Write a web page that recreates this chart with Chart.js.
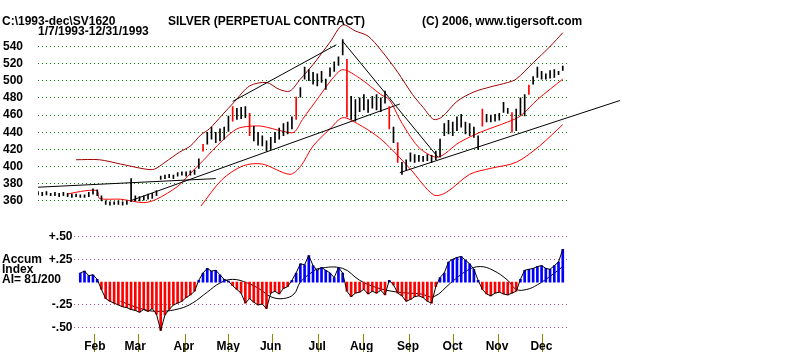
<!DOCTYPE html>
<html>
<head>
<title>SILVER (PERPETUAL CONTRACT)</title>
<script src="https://cdn.jsdelivr.net/npm/chart.js"></script>
<style>
body { margin:0; width:800px; height:352px; position:relative; background:#fff; overflow:hidden;
       font: bold 12px "Liberation Sans", Arial, sans-serif; color:#000; }
.t { position:absolute; white-space:pre; line-height:12px; }
#top { position:absolute; left:0; top:0; }
#bot { position:absolute; left:0; top:222px; }
</style>
</head>
<body>
<canvas id="top" width="800" height="215"></canvas>
<canvas id="bot" width="800" height="130"></canvas>
<div class="t" style="left:2px;top:15px">C:\1993-dec\SV1620</div>
<div class="t" style="left:38px;top:25px">1/7/1993-12/31/1993</div>
<div class="t" style="left:168px;top:15px">SILVER (PERPETUAL CONTRACT)</div>
<div class="t" style="left:422px;top:15px">(C) 2006, www.tigersoft.com</div>
<div class="t" style="left:2px;top:253px">Accum</div>
<div class="t" style="left:2px;top:263px">Index</div>
<div class="t" style="left:2px;top:273px">AI= 81/200</div>

<script>
// trading day 0 = 1/7/1993, one bar every 2 trading days
const priceHigh = [
  371,370,371,369,370,369,370,369,368,368,
  367,367,370,374,373,366,360,359,359,360,
  359,360,386,366,365,366,368,369,372,389,
  390,391,390,393,394,394,395,396,409,426,
  440,446,440,444,446,459,470,468,469,470,
  462,447,440,436,430,434,440,445,450,452,
  458,481,492,516,513,510,508,511,502,515,
  522,528,548,525,482,478,480,484,478,482,
  484,480,488,470,446,428,405,408,416,414,
  413,412,414,413,418,432,450,454,452,458,
  461,452,450,446,436,467,461,460,461,462,
  475,468,463,467,480,484,495,505,516,511,
  508,512,513,511,517
];
const priceLow = [
  367,366,367,366,366,365,366,365,364,365,
  364,364,365,368,366,360,356,355,356,356,
  355,356,359,360,360,361,362,363,366,385,
  386,387,386,389,390,389,390,391,398,418,
  426,432,428,430,432,441,453,455,456,457,
  436,430,425,424,418,420,428,432,436,438,
  444,455,481,502,500,496,494,498,490,505,
  511,518,530,458,455,453,464,466,463,468,
  466,464,474,444,428,405,391,396,406,405,
  406,406,407,405,408,411,436,438,436,442,
  446,438,436,434,420,447,452,452,453,454,
  463,462,440,442,460,459,484,496,504,502,
  502,503,504,507,512
];
const redBars = [39,46,50,61,73,83,85,105,112,116];

const upperDays = [18,29,39,51,55,60,67,72,77,81,87,93,100,108,114,119,124,130,138,144,150,156,162,170,177,182,187,191,198,206,214,222,226,234,242,248];
const upperBand = [408,408,403,397,397,405,417,424,437,444,460,476,494,498,490,488,502,519,545,565,558,552,536,510,484,469,455,458,476,487,493,498,502,521,540,556];
const maDays = [14,20,28,29,39,50,56,66,72,78,87,94,100,106,116,121,125,133,139,144,152,162,166,171,176,181,189,199,209,222,228,236,248];
const maValues = [368,371,372,363,362,358,362,377,392,407,430,444,447,447,441,440,455,482,502,513,503,484,478,455,435,420,411,428,440,452,459,478,502];
const lowerDays = [77,87,97,106,119,124,130,138,144,151,160,166,176,187,193,204,214,226,237,248];
const lowerBand = [354,385,401,403,391,400,424,444,457,450,436,423,397,367,370,391,398,405,424,449];

const trendLines = [
  { days:[0,84], values:[376,386] },
  { days:[43.5,171], values:[360,473] },
  { days:[92,141], values:[476,542] },
  { days:[144,189], values:[546,411] },
  { days:[171,275], values:[393,477] }
];
const priceTicks = [360,380,400,420,440,460,480,500,520,540];

// accumulation index, from trading day 20
const accum = [
  0.10,0.12,0.07,0.08,0.03,-0.08,-0.18,-0.21,-0.23,-0.25,
  -0.27,-0.28,-0.30,-0.31,-0.33,-0.30,-0.32,-0.29,-0.35,-0.53,
  -0.36,-0.30,-0.25,-0.23,-0.21,-0.17,-0.14,-0.10,0.02,0.10,
  0.15,0.12,0.13,0.08,0.03,0.01,-0.04,-0.08,-0.12,-0.23,
  -0.18,-0.22,-0.25,-0.24,-0.29,-0.12,-0.10,-0.13,-0.07,-0.05,
  0.02,0.10,0.20,0.19,0.29,0.18,0.13,0.16,0.13,0.10,
  0.05,0.16,0.10,-0.10,-0.16,-0.12,-0.11,-0.08,-0.13,-0.10,
  -0.12,-0.09,-0.14,0.02,-0.03,-0.12,-0.15,-0.21,-0.19,-0.16,
  -0.15,-0.17,-0.21,-0.23,-0.05,0.05,0.10,0.22,0.25,0.27,
  0.28,0.24,0.20,0.14,0.02,-0.08,-0.13,-0.15,-0.12,-0.11,
  -0.13,-0.14,-0.12,-0.10,0.03,0.13,0.14,0.15,0.17,0.18,
  0.15,0.14,0.18,0.22,0.36
];
const accumMaDays = [39,50,58,67,73,80,86,92,99,105,110,116,121,124,129,133,144,152,160,170,181,187,195,203,209,215,222,226,231,236,243,248];
const accumMa = [-0.21,-0.30,-0.32,-0.29,-0.23,-0.11,-0.01,0.03,-0.01,-0.08,-0.16,-0.18,-0.13,0.0,0.10,0.15,0.15,0.02,-0.06,-0.11,-0.13,-0.16,-0.01,0.13,0.17,0.13,0.02,-0.08,-0.08,-0.03,0.08,0.17];
const accumTicks = [-0.5,-0.25,0.25,0.5];
const accumTickLabels = ['-.50','-.25','+.25','+.50'];

const monthStarts = [17,36,59,80,100,122,143,165,186,207,228];
const monthNames = ['Feb','Mar','Apr','May','Jun','Jul','Aug','Sep','Oct','Nov','Dec'];

const font = { family: '"Liberation Sans", Arial, sans-serif', size: 12, weight: 'bold' };
const pts = (days, vals) => days.map((d, i) => ({ x: d, y: vals[i] }));
const line = (data, color, extra) => Object.assign({
  type: 'line', data: data, borderColor: color, borderWidth: 1,
  pointRadius: 0, fill: false, tension: 0.3
}, extra || {});

const bars = priceHigh.map((h, i) => ({ x: i * 2, y: [priceLow[i], h] }));
const barColors = priceHigh.map((h, i) => redBars.includes(i) ? '#ff0000' : '#000000');

const topSets = [
  { type: 'bar', data: bars, backgroundColor: barColors, barThickness: 1 }
];
trendLines.forEach(t => topSets.push(line(pts(t.days, t.values), '#000000', { tension: 0, clip: false })));
topSets.push(line(pts(maDays, maValues), '#ff0000'));
topSets.push(line(pts(lowerDays, lowerBand), '#ff0000'));
topSets.push(line(pts(upperDays, upperBand), '#a00000'));

new Chart(document.getElementById('top'), {
  type: 'bar',
  data: { datasets: topSets },
  options: {
    responsive: false, animation: false, devicePixelRatio: 1,
    layout: { padding: { left: 3, right: 233, top: 19, bottom: 6 } },
    plugins: { legend: { display: false }, tooltip: { enabled: false } },
    scales: {
      x: { type: 'linear', min: 0, max: 250, offset: false, display: false },
      y: {
        min: 352, max: 572,
        afterBuildTicks: a => { a.ticks = priceTicks.map(v => ({ value: v })); },
        afterFit: a => { a.width = 35; },
        ticks: { crossAlign: 'far', color: '#000', font: font, padding: 0 },
        grid: { color: '#008000', drawTicks: false },
        border: { display: false, dash: [1, 3] }
      }
    }
  }
});

const accDays = accum.map((v, i) => 20 + i * 2);
const accData = pts(accDays, accum);

new Chart(document.getElementById('bot'), {
  type: 'bar',
  data: { datasets: [
    line(accData, '#000000', { tension: 0 }),
    { type: 'bar', data: accData, backgroundColor: accum.map(v => v >= 0 ? '#0000ff' : '#ff0000'), barThickness: 2 },
    line(pts(accumMaDays, accumMa), '#000000', { tension: 0.4 })
  ] },
  options: {
    responsive: false, animation: false, devicePixelRatio: 1,
    layout: { padding: { left: 0, right: 233, top: 3, bottom: 0 } },
    plugins: { legend: { display: false }, tooltip: { enabled: false } },
    scales: {
      x: {
        type: 'linear', min: 16.8, max: 250, offset: false,
        afterBuildTicks: a => { a.ticks = monthStarts.map(v => ({ value: v })); },
        afterFit: a => { a.height = 18; },
        grid: { drawOnChartArea: false, drawTicks: true, tickLength: 18, tickColor: '#8c8c00' },
        border: { display: false },
        ticks: { callback: (v, i) => monthNames[i], labelOffset: 21, padding: -13,
                 maxRotation: 0, autoSkip: false, color: '#000', font: font }
      },
      y: {
        min: -0.568, max: 0.568,
        afterBuildTicks: a => { a.ticks = accumTicks.map(v => ({ value: v })); },
        afterFit: a => { a.width = 73.5; },
        ticks: { callback: (v, i) => accumTickLabels[i], color: '#000', font: font, padding: 1 },
        grid: { color: '#b05090', drawTicks: false },
        border: { display: false, dash: [1, 3] }
      }
    }
  }
});
</script>
</body>
</html>
